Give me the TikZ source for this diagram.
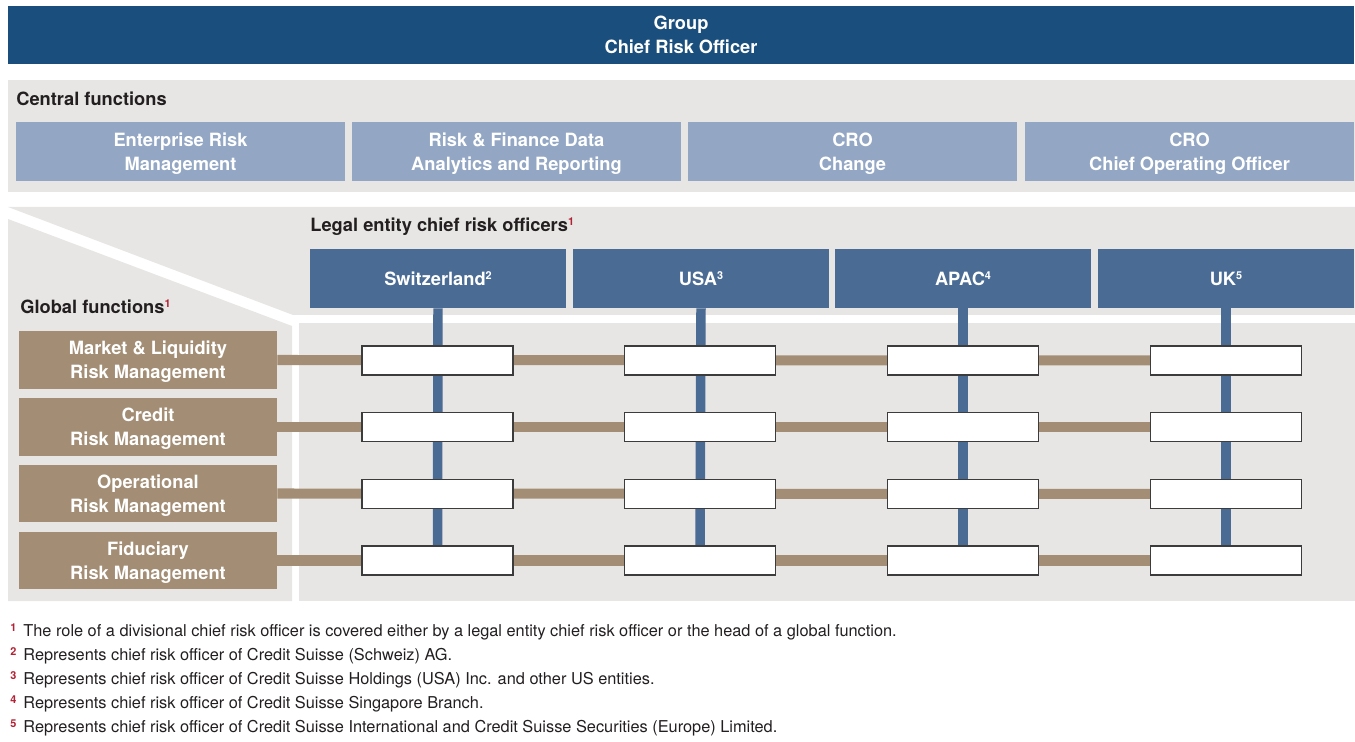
\documentclass[tikz,border=0pt]{standalone}
\usepackage{fontspec}
\setmainfont{TeX Gyre Heros}
\usetikzlibrary{backgrounds}

\definecolor{csnavy}{RGB}{26,78,124}
\definecolor{csblue}{RGB}{74,107,148}
\definecolor{cslight}{RGB}{147,167,196}
\definecolor{csgrey}{RGB}{232,230,228}
\definecolor{csbrown}{RGB}{163,142,117}
\definecolor{csred}{RGB}{178,34,52}
\definecolor{csink}{RGB}{35,31,32}
\definecolor{csdark}{RGB}{60,60,60}

\newcommand{\supnum}[1]{\raisebox{0.6ex}{\fontsize{6.2}{6.2}\selectfont #1}}
\newcommand{\fnmark}[1]{\supnum{\color{csred}#1}}
\newcommand{\boxfont}{\fontsize{10.4}{13.6}\selectfont\bfseries}

\begin{document}
\begin{tikzpicture}[x=0.02cm, y=-0.02cm,
  boss/.style={fill=csnavy, text=white, font=\boxfont, align=center, inner sep=0,
    minimum width=26.92cm, minimum height=1.16cm},
  central/.style={fill=cslight, text=white, font=\boxfont, align=center, inner sep=0,
    text depth=0pt, minimum width=6.58cm, minimum height=1.18cm},
  entity/.style={fill=csblue, text=white, font=\boxfont, align=center, inner sep=0,
    minimum width=5.12cm, minimum height=1.18cm},
  global/.style={fill=csbrown, text=white, font=\boxfont, align=center, inner sep=0,
    text depth=0pt, minimum width=5.16cm, minimum height=1.16cm},
  cell/.style={draw=csdark, fill=white, line width=0.6pt, inner sep=0,
    minimum width=3.02cm, minimum height=0.58cm},
  heading/.style={anchor=west, inner sep=0, text=csink, font=\boxfont},
  footnote/.style={anchor=west, inner sep=0, text=csink, font=\fontsize{9.3}{11}\selectfont},
  riskline/.style={line width=5.7pt, color=csbrown},
  croline/.style={line width=5.4pt, color=csblue}]

\useasboundingbox (0,0) rectangle (1355,742);

% NODES %%%%%%%%%%%%%%%%%%%%%%%%%%%%%%%%%%%%%%%%%%%%%%%%%%%%%%%%%%%%%%%%%%

\node[boss] (GCRO) at (681,35) {Group\\Chief Risk Officer};

\node[heading] (CFhead) at (16,99) {Central functions};
\node[central] (ERM) at (180.5,151.5) {Enterprise Risk\\Management};
\node[central] (RFDA) at (516.5,151.5) {Risk \& Finance Data\\Analytics and Reporting};
\node[central] (CROC) at (852.5,151.5) {CRO\\Change};
\node[central] (COO) at (1189.5,151.5) {CRO\\Chief Operating Officer};

\node[heading] (LEhead) at (310,227) {Legal entity chief risk officers\fnmark{1}};
\node[entity] (CH) at (438,278.5) {Switzerland\supnum{2}};
\node[entity] (US) at (701,278.5) {USA\supnum{3}};
\node[entity] (AP) at (963,278.5) {APAC\supnum{4}};
\node[entity] (UK) at (1226,278.5) {UK\supnum{5}};

\node[heading] (GFhead) at (20,307) {Global functions\fnmark{1}};
\node[global] (MLR) at (148,360) {Market \& Liquidity\\Risk Management};
\node[global] (CRM) at (148,427) {Credit\\Risk Management};
\node[global] (ORM) at (148,493.5) {Operational\\Risk Management};
\node[global] (FRM) at (148,560.5) {Fiduciary\\Risk Management};

\node[cell] (C11) at (437.5,360.5) {};
\node[cell] (C12) at (700,360.5) {};
\node[cell] (C13) at (963,360.5) {};
\node[cell] (C14) at (1226,360.5) {};

\node[cell] (C21) at (437.5,427) {};
\node[cell] (C22) at (700,427) {};
\node[cell] (C23) at (963,427) {};
\node[cell] (C24) at (1226,427) {};

\node[cell] (C31) at (437.5,494) {};
\node[cell] (C32) at (700,494) {};
\node[cell] (C33) at (963,494) {};
\node[cell] (C34) at (1226,494) {};

\node[cell] (C41) at (437.5,560.5) {};
\node[cell] (C42) at (700,560.5) {};
\node[cell] (C43) at (963,560.5) {};
\node[cell] (C44) at (1226,560.5) {};

% LINKS %%%%%%%%%%%%%%%%%%%%%%%%%%%%%%%%%%%%%%%%%%%%%%%%%%%%%%%%%%%%%%%%%%

\begin{pgfonlayer}{background}
\fill[csgrey] (8,80) rectangle (1355,192);
\fill[csgrey] (8,207) -- (1355,207) -- (1355,315) -- (293,315) -- cycle;
\fill[csgrey] (8,219) -- (292,326) -- (292,601) -- (8,601) -- cycle;
\fill[csgrey] (299,323) rectangle (1355,601);

\draw[croline] (CH.south) -- (C41.center);
\draw[croline] (US.south) -- (C42.center);
\draw[croline] (AP.south) -- (C43.center);
\draw[croline] (UK.south) -- (C44.center);

\draw[riskline] (MLR.east) -- (C14.center);
\draw[riskline] (CRM.east) -- (C24.center);
\draw[riskline] (ORM.east) -- (C34.center);
\draw[riskline] (FRM.east) -- (C44.center);
\end{pgfonlayer}

% FOOTNOTES

\node[footnote] (fn1) at (10,632) {\makebox[7.4pt][l]{\bfseries\fnmark{1}}The role of a divisional chief risk officer is covered either by a legal entity chief risk officer or the head of a global function.};
\node[footnote] (fn2) at (10,656) {\makebox[7.4pt][l]{\bfseries\fnmark{2}}Represents chief risk officer of Credit Suisse (Schweiz) AG.};
\node[footnote] (fn3) at (10,680) {\makebox[7.4pt][l]{\bfseries\fnmark{3}}Represents chief risk officer of Credit Suisse Holdings (USA) Inc. and other US entities.};
\node[footnote] (fn4) at (10,704) {\makebox[7.4pt][l]{\bfseries\fnmark{4}}Represents chief risk officer of Credit Suisse Singapore Branch.};
\node[footnote] (fn5) at (10,728) {\makebox[7.4pt][l]{\bfseries\fnmark{5}}Represents chief risk officer of Credit Suisse International and Credit Suisse Securities (Europe) Limited.};

\end{tikzpicture}
\end{document}
